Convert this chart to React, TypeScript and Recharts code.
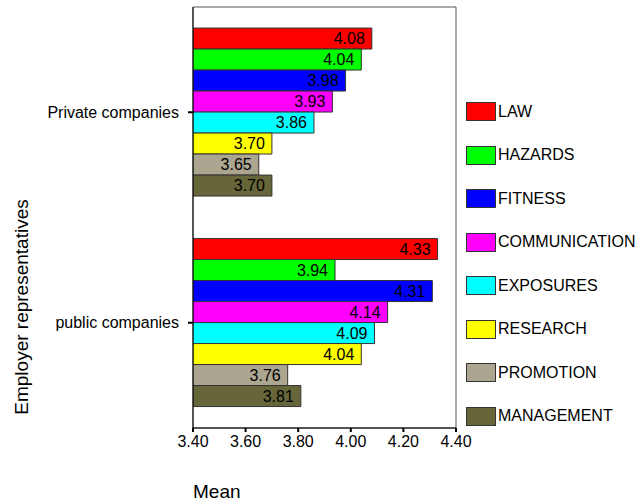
import { Bar, BarChart, LabelList, ReferenceArea, XAxis, YAxis } from "recharts";

const categories = ["Private companies", "public companies"];
const seriesNames = ["LAW", "HAZARDS", "FITNESS", "COMMUNICATION", "EXPOSURES", "RESEARCH", "PROMOTION", "MANAGEMENT"];
const seriesColors = ["#ff0000", "#00ff00", "#0000ff", "#ff00ff", "#00ffff", "#ffff00", "#aca590", "#66663a"];
const privateValues = [4.08, 4.04, 3.98, 3.93, 3.86, 3.7, 3.65, 3.7];
const publicValues = [4.33, 3.94, 4.31, 4.14, 4.09, 4.04, 3.76, 3.81];
const xTicks = [3.4, 3.6, 3.8, 4.0, 4.2, 4.4];

const font = "'Liberation Sans', Arial, sans-serif";

const data = categories.map((name, i) => {
  const row: Record<string, string | number> = { name };
  const vals = i === 0 ? privateValues : publicValues;
  seriesNames.forEach((s, j) => {
    row[s] = vals[j];
  });
  return row;
});

// legend drawn as plain html next to the chart
function LegendBox() {
  return (
    <div
      style={{
        position: "absolute",
        left: 466,
        top: 90,
        fontFamily: font,
        fontSize: 16,
        color: "#000",
      }}
    >
      {seriesNames.map((s, i) => (
        <div key={s} style={{ display: "flex", alignItems: "center", height: 43.5 }}>
          <div
            style={{
              width: 28,
              height: 17,
              background: seriesColors[i],
              border: "1px solid #333",
              marginRight: 2,
            }}
          />
          <span>{s}</span>
        </div>
      ))}
    </div>
  );
}

export default function App() {
  return (
    <div style={{ position: "absolute", left: 0, top: 0, width: 637, height: 504, background: "#fff" }}>
      <BarChart
        width={637}
        height={504}
        data={data}
        layout="vertical"
        barGap={0}
        barCategoryGap="10%"
        margin={{ top: 7, right: 181, left: 33, bottom: 0 }}
      >
        <ReferenceArea x1={3.4} x2={4.4} fill="none" stroke="#555" strokeWidth={1} />
        <XAxis
          type="number"
          domain={[3.4, 4.4]}
          ticks={xTicks}
          interval={0}
          allowDataOverflow
          height={76}
          tickFormatter={(v: number) => v.toFixed(2)}
          tick={{ fill: "#000", fontSize: 16, fontFamily: font }}
          tickSize={4}
          tickMargin={4}
          axisLine={{ stroke: "#000" }}
          tickLine={{ stroke: "#000", strokeWidth: 2 }}
          label={{
            content: (p: any) => (
              <text x={p.viewBox.x} y={p.viewBox.y + p.viewBox.height - 6} fontSize={19} fontFamily={font} fill="#000">
                Mean
              </text>
            ),
          }}
        />
        <YAxis
          type="category"
          dataKey="name"
          width={160}
          tick={{ fill: "#000", fontSize: 16, fontFamily: font }}
          tickSize={5}
          tickMargin={9}
          axisLine={{ stroke: "#000" }}
          tickLine={{ stroke: "#000", strokeWidth: 2 }}
          label={{
            content: (p: any) => {
              const x = p.viewBox.x - 5;
              const y = p.viewBox.y + 300;
              return (
                <text
                  x={x}
                  y={y}
                  transform={`rotate(-90 ${x} ${y})`}
                  textAnchor="middle"
                  fontSize={19}
                  fontFamily={font}
                  fill="#000"
                >
                  Employer representatives
                </text>
              );
            },
          }}
        />
        {seriesNames.map((s, i) => (
          <Bar key={s} dataKey={s} fill={seriesColors[i]} stroke="#333" strokeWidth={1} isAnimationActive={false}>
            <LabelList
              dataKey={s}
              position="insideRight"
              offset={7}
              formatter={(v: any) => Number(v).toFixed(2)}
              style={{ fill: "#000", fontSize: 16, fontFamily: font }}
            />
          </Bar>
        ))}
      </BarChart>
      <LegendBox />
    </div>
  );
}
